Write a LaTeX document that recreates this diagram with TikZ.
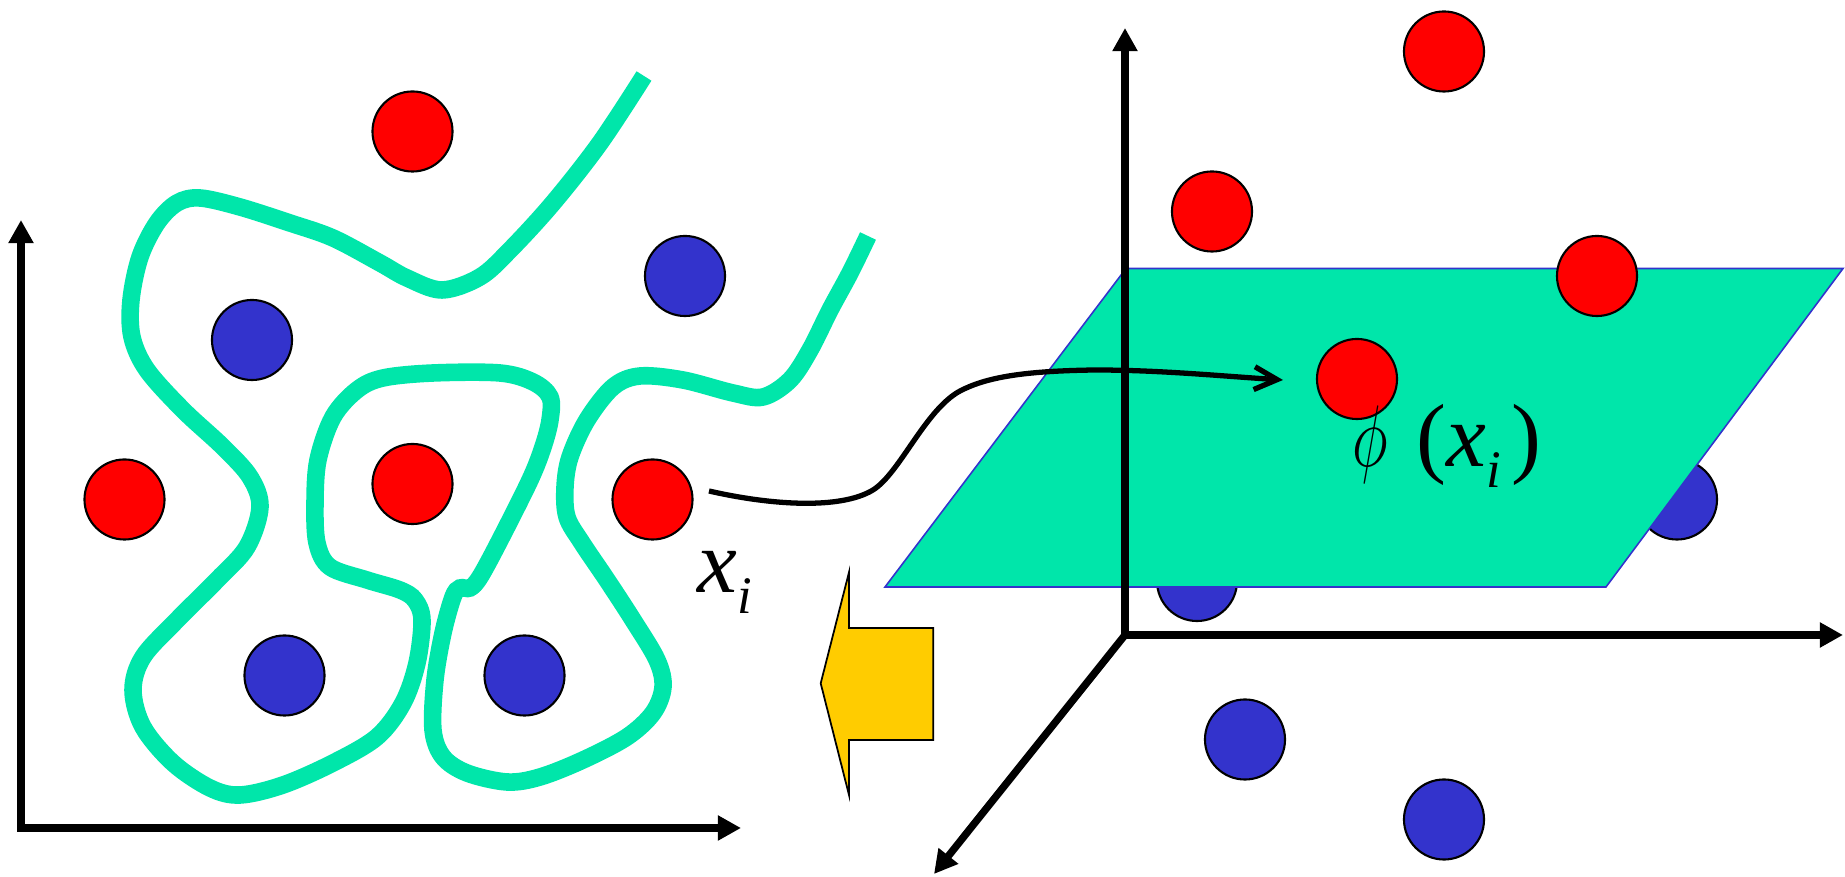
\documentclass[tikz,border=0pt]{standalone}
\usepackage{fontspec}
\usepackage{graphicx}
\setmainfont{Liberation Serif}
\usetikzlibrary{arrows.meta}
\definecolor{tealc}{RGB}{0,230,170}
\definecolor{redc}{RGB}{255,0,0}
\definecolor{bluec}{RGB}{51,51,204}
\definecolor{yellowc}{RGB}{255,204,0}
\begin{document}
\begin{tikzpicture}[x=0.01cm,y=-0.01cm,
  dot/.style={circle,draw=black,line width=0.6pt,minimum size=0.8cm,inner sep=0pt},
  reddot/.style={dot,fill=redc},
  bluedot/.style={dot,fill=bluec},
  axistip/.tip={Triangle[length=6.6pt,width=6.8pt]},
  axis/.style={line width=2.1pt},
  sep/.style={draw=tealc,line width=5pt},
  lbl/.style={inner sep=0pt,font=\fontsize{25.5}{26}\selectfont\itshape}
]
\useasboundingbox (0,0) rectangle (1845,877);

% ---------- left panel ----------
\coordinate (lytip) at (21,220);
\coordinate (lo) at (21,828);
\coordinate (lxtip) at (741,828);
\draw[axis,axistip-axistip] (lytip) -- (lo) -- (lxtip);

\draw[sep] plot[smooth,tension=0.55] coordinates {
(644,76) (600,143) (553,203) (510,250) (480,277) (442,290) (407,278)
(380,263) (333,238) (290,223) (240,207) (200,198) (177,203) (157,223)
(140,257) (131,300) (132,337) (147,370) (183,410) (223,447) (250,477)
(260,507) (247,547) (217,580) (177,620) (143,657) (133,690) (143,727)
(173,763) (210,788) (240,795) (283,785) (333,763) (377,737) (403,703)
(417,663) (422,620) (415,600) (400,590) (367,580) (330,567) (317,543)
(315,503) (318,460) (333,417) (357,390) (383,378) (433,373) (500,373)
(533,382) (550,397) (550,420) (543,447) (530,480) (500,540) (480,577)
(470,588) (460,588) (453,597) (443,633) (435,680) (433,730) (443,757)
(467,773) (507,782) (540,777) (583,760) (627,737) (653,713) (663,687)
(657,660) (633,620) (607,580) (582,543) (567,517) (565,487) (570,457)
(587,420) (613,387) (640,376) (683,380) (733,393) (763,397) (790,380)
(810,350) (830,310) (850,273) (868,236)};

\node[reddot]  (lr1) at (412.5,131.5) {};
\node[bluedot] (lb1) at (685,276) {};
\node[bluedot] (lb2) at (252,340) {};
\node[reddot]  (lr2) at (124.5,499.5) {};
\node[reddot]  (lr3) at (412.5,484) {};
\node[reddot]  (lr4) at (652.5,499.5) {};
\node[bluedot] (lb3) at (284.5,675.5) {};
\node[bluedot] (lb4) at (524.5,675.5) {};

\node[lbl,anchor=base west] (xi) at (697,593) {x\raisebox{-5.7pt}{\fontsize{15}{15}\selectfont i}};

% yellow arrow
\filldraw[fill=yellowc,draw=black,line width=0.5pt]
  (820.7,683.3) -- (849,572.3) -- (849,628) -- (933.3,628) -- (933.3,740)
  -- (849,740) -- (849,795) -- cycle;

% ---------- right panel ----------
\node[bluedot] (rb1) at (1677,499.5) {};
\node[bluedot] (rb2) at (1197,581) {};

\filldraw[fill=tealc,draw=bluec,line width=0.45pt]
  (885,587) -- (1126,268.5) -- (1843,268.5) -- (1606,587) -- cycle;

\coordinate (ro) at (1125,635);
\coordinate (rz) at (1125,28);
\coordinate (rx) at (1843,635);
\coordinate (rd) at (934,874);
\draw[axis,-axistip] (ro) -- (rz);
\draw[axis,-axistip] (ro) -- (rx);
\draw[axis,-axistip] (ro) -- (rd);

\node[reddot]  (rr1) at (1444,51.5) {};
\node[reddot]  (rr2) at (1212,211.5) {};
\node[reddot]  (rr3) at (1597,276) {};
\node[reddot]  (rr4) at (1357,379) {};
\node[bluedot] (rb3) at (1245,739.5) {};
\node[bluedot] (rb4) at (1444,819.5) {};

% mapping connector
\coordinate (cs) at (709,491);
\coordinate (ce) at (1283,380);
\draw[line width=1.5pt,-{Straight Barb[length=6.5pt,width=6.5pt]}]
  (cs) .. controls (770,505) and (840,510) .. (873,490)
       .. controls (900,473) and (925,410) .. (960,391)
       .. controls (985,378) and (1020,371) .. (1095,370)
       .. controls (1160,370) and (1220,376) .. (ce);

\node[lbl,anchor=base west] (phix) at (1352,467)
  {\scalebox{0.7}[1]{$\phi$}\hspace{8pt}{\upshape(}x\raisebox{-5.7pt}{\fontsize{15}{15}\selectfont i}\hspace{3pt}{\upshape)}};
\end{tikzpicture}
\end{document}
